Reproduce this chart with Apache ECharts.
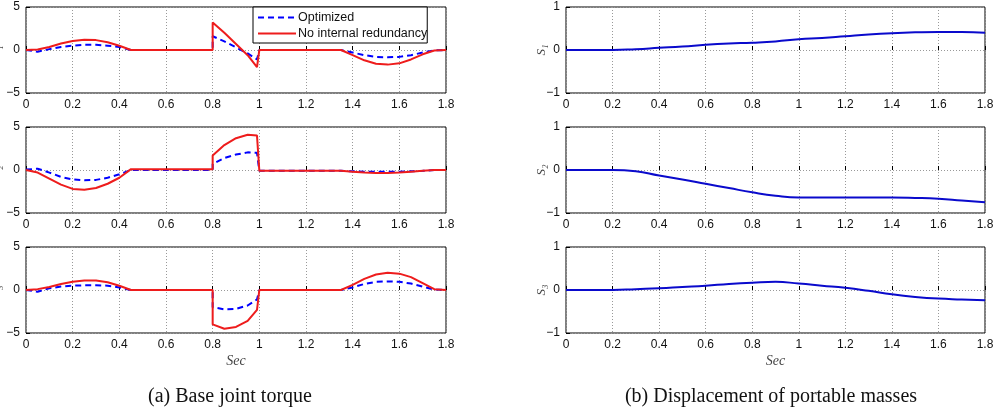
<!DOCTYPE html>
<html>
<head>
<meta charset="utf-8">
<script src="https://cdn.jsdelivr.net/npm/echarts@6/dist/echarts.min.js"></script>
<style>
  html, body { margin: 0; padding: 0; background: #fff; }
  #chart { width: 997px; height: 410px; }
</style>
</head>
<body>
<div id="chart"></div>
<script>
// time samples for the torque plots (0.8 and 1.0 are repeated for the jumps)
var tTorque = [0, 0.05, 0.1, 0.15, 0.2, 0.25, 0.3, 0.35, 0.4, 0.45, 0.6, 0.8, 0.8, 0.85, 0.9, 0.95, 0.99, 1.0,
               1.2, 1.35, 1.4, 1.45, 1.5, 1.55, 1.6, 1.65, 1.7, 1.75, 1.8];

var tau1Opt = [0, -0.2, 0.1, 0.35, 0.5, 0.6, 0.6, 0.5, 0.35, 0, 0, 0, 1.6, 1.0, 0.3, -0.4, -1.1, 0,
               0, 0, -0.3, -0.6, -0.8, -0.85, -0.8, -0.6, -0.3, -0.05, 0];
var tau1Raw = [0, 0.05, 0.35, 0.75, 1.05, 1.2, 1.15, 0.9, 0.5, 0, 0, 0, 3.2, 2.0, 0.7, -0.6, -2.0, 0,
               0, 0, -0.6, -1.2, -1.6, -1.7, -1.55, -1.1, -0.5, -0.05, 0];

var tau2Opt = [0.05, 0.15, -0.3, -0.8, -1.1, -1.2, -1.15, -0.9, -0.5, 0, 0, 0, 0.7, 1.4, 1.8, 2.05, 2.0, -0.1,
               -0.1, -0.1, -0.15, -0.2, -0.2, -0.2, -0.2, -0.15, -0.1, 0, 0];
var tau2Raw = [0, -0.3, -1.0, -1.7, -2.2, -2.3, -2.1, -1.6, -0.9, 0.1, 0.1, 0.1, 1.7, 2.9, 3.7, 4.1, 4.0, -0.1,
               -0.1, -0.1, -0.2, -0.3, -0.35, -0.35, -0.3, -0.2, -0.1, 0, 0];

var tau3Opt = [0, -0.2, 0.2, 0.4, 0.5, 0.55, 0.55, 0.5, 0.3, 0, 0, 0, -2.0, -2.25, -2.2, -1.8, -1.1, 0,
               0, 0, 0.3, 0.7, 0.95, 1.0, 0.95, 0.75, 0.4, 0.05, 0];
var tau3Raw = [0, 0.1, 0.35, 0.7, 0.95, 1.1, 1.1, 0.9, 0.5, 0, 0, 0, -4.0, -4.5, -4.3, -3.6, -2.3, 0,
               0, 0, 0.6, 1.3, 1.8, 2.0, 1.9, 1.5, 0.8, 0.1, 0];

// time samples for the portable mass plots
var tMass = [0, 0.1, 0.2, 0.3, 0.4, 0.5, 0.6, 0.7, 0.8, 0.9, 1.0, 1.1, 1.2, 1.3, 1.4, 1.5, 1.6, 1.7, 1.8];
var s1 = [0, 0, 0, 0.02, 0.05, 0.08, 0.12, 0.15, 0.17, 0.2, 0.25, 0.28, 0.32, 0.36, 0.39, 0.41, 0.42, 0.42, 0.40];
var s2 = [0, 0, 0, -0.03, -0.13, -0.22, -0.32, -0.42, -0.52, -0.6, -0.64, -0.64, -0.64, -0.64, -0.64, -0.65, -0.67, -0.71, -0.75];
var s3 = [0, 0, 0, 0.02, 0.04, 0.07, 0.1, 0.14, 0.17, 0.19, 0.15, 0.1, 0.05, -0.02, -0.1, -0.16, -0.2, -0.22, -0.24];

var torqueTicks = [-5, 0, 5];
var massTicks = [-1, 0, 1];
var xTicks = [0, 0.2, 0.4, 0.6, 0.8, 1, 1.2, 1.4, 1.6, 1.8];

var names = ['Optimized', 'No internal redundancy'];
var tauNames = ['τ₁', 'τ₂', 'τ₃'];
var sNames = ['S₁', 'S₂', 'S₃'];

function pairs(xs, ys) {
    return xs.map(function (x, i) { return [x, ys[i]]; });
}

var chart = echarts.init(document.getElementById('chart'));

var tops = [7, 127, 247];
var grids = [], xAxes = [], yAxes = [], series = [];
var sansFont = '"Liberation Sans", Arial, sans-serif';
var serifFont = '"Liberation Serif", "Times New Roman", serif';

function minusFmt(v) { return String(v).replace('-', '−'); }

for (var i = 0; i < 6; i++) {
    var isLeft = i < 3;
    var row = i % 3;
    grids.push({
        left: isLeft ? 26 : 566,
        width: isLeft ? 420 : 419,
        top: tops[row],
        height: 86,
        show: true,
        borderColor: '#000',
        borderWidth: 1,
        backgroundColor: '#fff',
        outerBoundsMode: 'none',
        containLabel: false
    });
    xAxes.push({
        type: 'value',
        gridIndex: i,
        min: xTicks[0],
        max: xTicks[xTicks.length - 1],
        interval: 0.2,
        axisLine: { show: false },
        axisTick: { show: true, inside: true, length: 4, lineStyle: { color: '#000' } },
        axisLabel: { color: '#111', fontSize: 12, fontFamily: sansFont, margin: 6 },
        splitLine: { show: true, lineStyle: { color: '#999', type: [1, 2], width: 1 } },
        name: row === 2 ? 'Sec' : '',
        nameLocation: 'middle',
        nameGap: 21,
        nameMoveOverlap: false,
        nameTextStyle: { fontFamily: serifFont, fontStyle: 'italic', fontSize: 14, color: '#444' }
    });
    var ticks = isLeft ? torqueTicks : massTicks;
    yAxes.push({
        type: 'value',
        gridIndex: i,
        min: ticks[0],
        max: ticks[ticks.length - 1],
        interval: ticks[1] - ticks[0],
        axisLine: { show: false },
        axisTick: { show: true, inside: true, length: 4, lineStyle: { color: '#000' } },
        axisLabel: { color: '#111', fontSize: 12, fontFamily: sansFont, margin: 6, formatter: minusFmt },
        splitLine: { show: true, lineStyle: { color: '#999', type: [1, 2], width: 1 } },
        name: isLeft ? tauNames[row] : sNames[row],
        nameLocation: 'middle',
        nameRotate: 90,
        nameGap: isLeft ? 23 : 18,
        nameMoveOverlap: false,
        nameTextStyle: { fontFamily: serifFont, fontStyle: 'italic', fontSize: 13, color: '#444' }
    });
}

var optData = [tau1Opt, tau2Opt, tau3Opt];
var rawData = [tau1Raw, tau2Raw, tau3Raw];
var massData = [s1, s2, s3];

for (var r = 0; r < 3; r++) {
    series.push({
        name: names[0],
        type: 'line',
        xAxisIndex: r,
        yAxisIndex: r,
        symbol: 'none',
        data: pairs(tTorque, optData[r]),
        lineStyle: { color: '#0000ff', width: 2, type: [6, 4] },
        itemStyle: { color: '#0000ff' },
        z: 3
    });
    series.push({
        name: names[1],
        type: 'line',
        xAxisIndex: r,
        yAxisIndex: r,
        symbol: 'none',
        data: pairs(tTorque, rawData[r]),
        lineStyle: { color: '#ee1c1c', width: 2 },
        itemStyle: { color: '#ee1c1c' },
        z: 4
    });
    series.push({
        type: 'line',
        xAxisIndex: r + 3,
        yAxisIndex: r + 3,
        symbol: 'none',
        smooth: true,
        data: pairs(tMass, massData[r]),
        lineStyle: { color: '#0a0acc', width: 2 },
        z: 3
    });
}

var option = {
    animation: false,
    backgroundColor: '#fff',
    title: [{
        text: '(a) Base joint torque',
        left: 225, top: 382, textAlign: 'center',
        textStyle: { fontFamily: serifFont, fontWeight: 'normal', fontSize: 20, color: '#111' }
    }, {
        text: '(b) Displacement of portable masses',
        left: 766, top: 382, textAlign: 'center',
        textStyle: { fontFamily: serifFont, fontWeight: 'normal', fontSize: 20, color: '#111' }
    }],
    legend: {
        data: names,
        orient: 'vertical',
        left: 253,
        top: 7,
        itemWidth: 38,
        itemHeight: 12,
        itemGap: 3,
        padding: [4, 0, 3, 4],
        backgroundColor: '#fff',
        borderColor: '#000',
        borderWidth: 1,
        borderRadius: 0,
        itemStyle: { color: 'rgba(0,0,0,0)', borderColor: 'rgba(0,0,0,0)', borderWidth: 0 },
        textStyle: { fontFamily: sansFont, fontSize: 12.5, color: '#111', padding: [0, 0, 0, -3] }
    },
    grid: grids,
    xAxis: xAxes,
    yAxis: yAxes,
    series: series
};

chart.setOption(option);
</script>
</body>
</html>
